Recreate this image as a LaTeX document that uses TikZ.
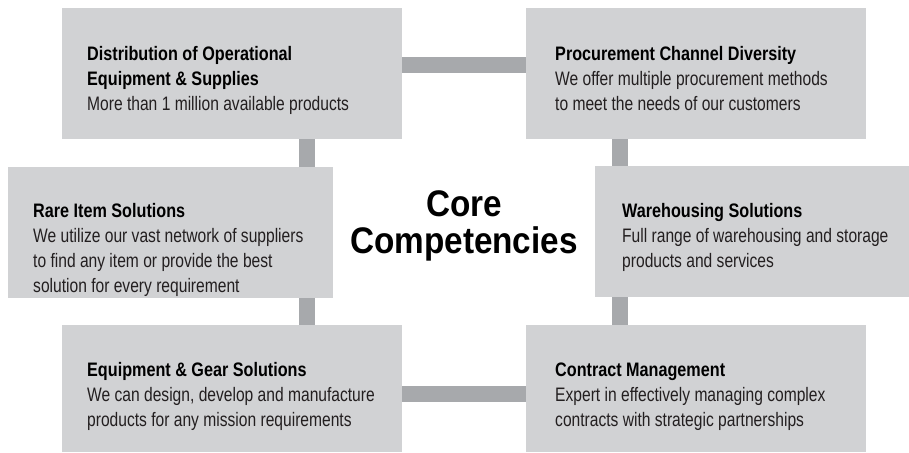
\documentclass[tikz,border=0pt]{standalone}
\usepackage{fontspec}
\newfontfamily\bodyfont{Liberation Sans}[FakeStretch=0.8]
\newfontfamily\headfont{Liberation Sans}[FakeStretch=0.83]
\newfontfamily\corefont{Liberation Sans}[FakeStretch=0.9]
\definecolor{boxgray}{HTML}{D1D2D4}
\definecolor{linkgray}{HTML}{A7A9AC}
\definecolor{txtgray}{HTML}{231F20}
\newcommand{\cardtext}[2]{\parbox[t]{320pt}{\raggedright\fontsize{19.5}{25}\selectfont
  {\headfont\bfseries\color{black}#1}\\{\bodyfont\color{txtgray}#2}}}
\tikzset{
  cardbox/.style={rectangle, fill=boxgray, draw=none, inner sep=0pt, anchor=north west},
  link/.style={draw=linkgray, line width=16pt, line cap=butt},
  cardtxt/.style={anchor=base west, inner sep=0pt}
}
\begin{document}
\begin{tikzpicture}[x=1pt,y=-1pt]
\fill[white] (0,0) rectangle (909,452);
\useasboundingbox (0,0) rectangle (909,452);
% boxes
\node[cardbox, minimum width=340pt, minimum height=131pt] (b1) at (62,8) {};
\node[cardbox, minimum width=340pt, minimum height=131pt] (b2) at (526,8) {};
\node[cardbox, minimum width=325pt, minimum height=131pt] (b3) at (8,167) {};
\node[cardbox, minimum width=314pt, minimum height=131pt] (b4) at (595,166) {};
\node[cardbox, minimum width=340pt, minimum height=127pt] (b5) at (62,325) {};
\node[cardbox, minimum width=340pt, minimum height=127pt] (b6) at (526,325) {};
% connectors
\draw[link] (b1.east |- 0,65) -- (b2.west |- 0,65);
\draw[link] (b5.east |- 0,393.5) -- (b6.west |- 0,393.5);
\draw[link] (b1.south -| 307,0) -- (b3.north -| 307,0);
\draw[link] (b3.south -| 307,0) -- (b5.north -| 307,0);
\draw[link] (b2.south -| 620,0) -- (b4.north -| 620,0);
\draw[link] (b4.south -| 620,0) -- (b6.north -| 620,0);
% texts
\node[cardtxt] (t1) at (87,46) {\cardtext{Distribution of Operational\\Equipment \& Supplies}{More than 1 million available products}};
\node[cardtxt] (t2) at (555,46) {\cardtext{Procurement Channel Diversity}{We offer multiple procurement methods\\to meet the needs of our customers}};
\node[cardtxt] (t3) at (33,203.5) {\cardtext{Rare Item Solutions}{We utilize our vast network of suppliers\\to find any item or provide the best\\solution for every requirement}};
\node[cardtxt] (t4) at (622,203.5) {\cardtext{Warehousing Solutions}{Full range of warehousing and storage\\products and services}};
\node[cardtxt] (t5) at (87,362.5) {\cardtext{Equipment \& Gear Solutions}{We can design, develop and manufacture\\products for any mission requirements}};
\node[cardtxt] (t6) at (555,362.5) {\cardtext{Contract Management}{Expert in effectively managing complex\\contracts with strategic partnerships}};
% centre title
\node[anchor=base, inner sep=0pt] (core) at (464,216.7) {\parbox[t]{300pt}{\centering\corefont\bfseries\fontsize{37}{36.6}\selectfont Core\\Competencies}};
\end{tikzpicture}
\end{document}
